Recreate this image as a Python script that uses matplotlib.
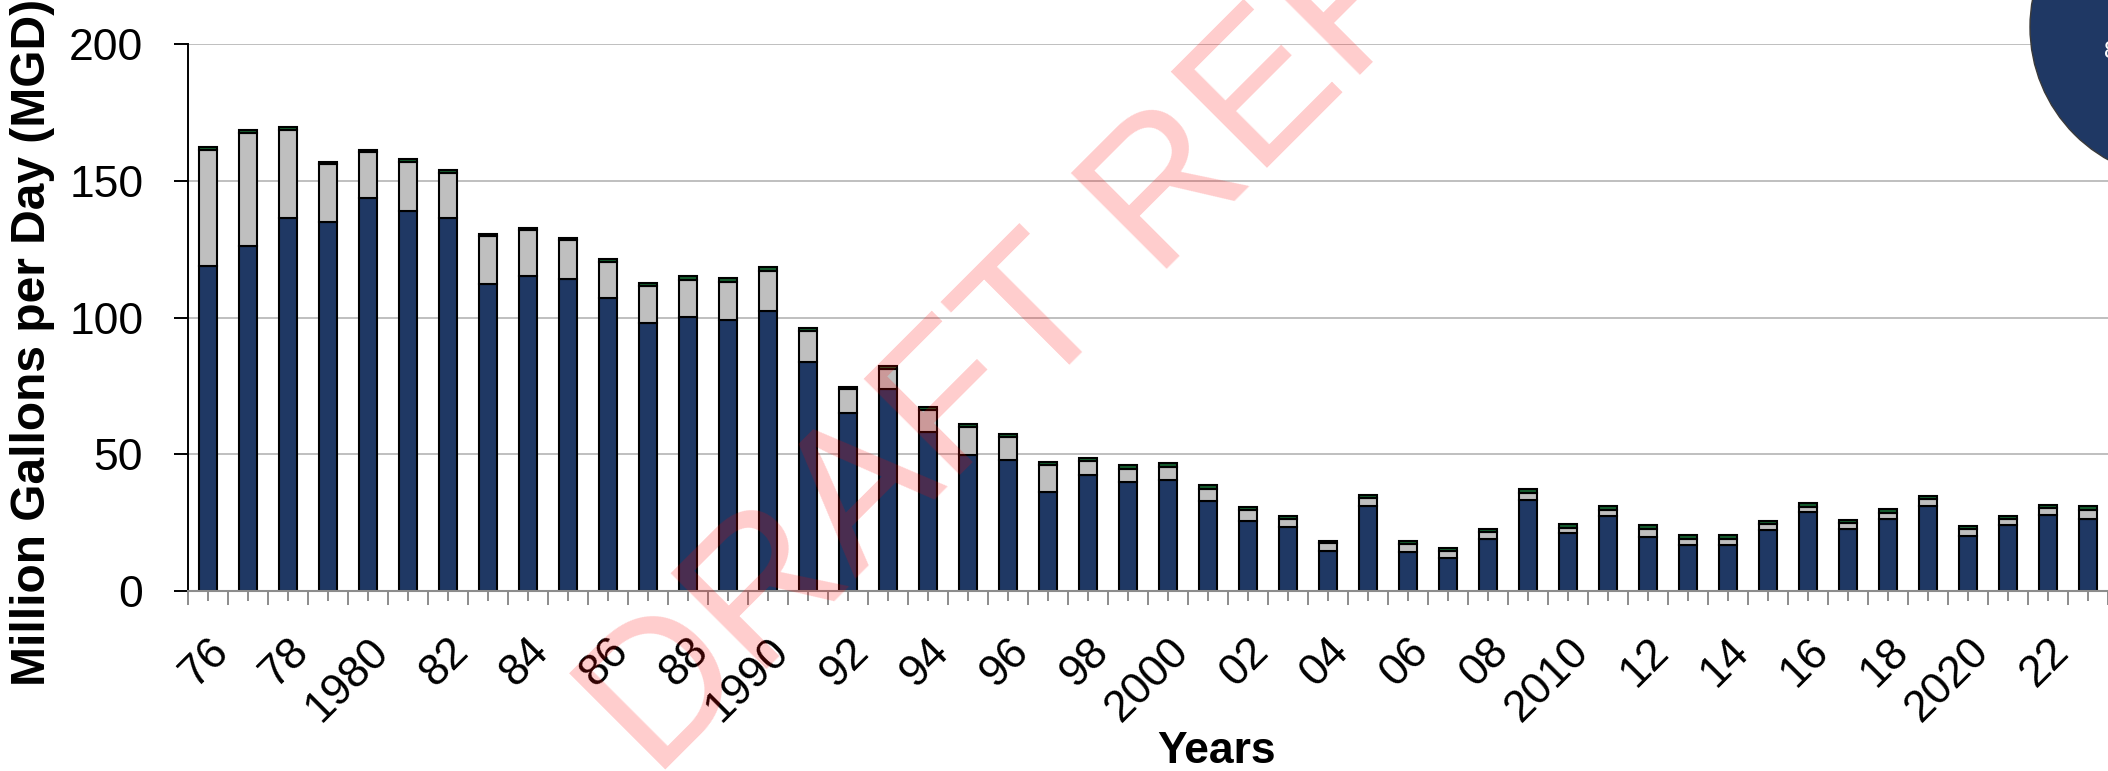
import matplotlib
matplotlib.use("Agg")
import matplotlib.pyplot as plt
from matplotlib.patches import Ellipse
import numpy as np

plt.rcParams["font.family"] = ["Liberation Sans", "DejaVu Sans"]

# annual production, million gallons per day
years = list(range(1976, 2024))
navy_part = [119.0, 126.3, 136.3, 134.9, 143.8, 139.1, 136.6, 112.4, 115.2, 114.0,
             107.1, 97.9, 100.3, 99.1, 102.5, 83.9, 65.0, 73.8, 58.3, 49.8,
             47.8, 36.3, 42.4, 39.8, 40.7, 33.0, 25.6, 23.5, 14.7, 31.2,
             14.4, 12.2, 19.0, 33.2, 21.1, 27.4, 19.9, 16.9, 17.0, 22.2,
             28.8, 22.8, 26.2, 31.1, 20.2, 24.0, 27.8, 26.4]
gray_part = [42.3, 41.4, 32.5, 21.3, 16.7, 18.0, 16.2, 17.3, 16.7, 14.3,
             13.1, 13.6, 13.5, 14.1, 14.7, 11.3, 8.8, 7.5, 7.9, 10.1,
             8.4, 9.7, 5.2, 4.9, 4.8, 4.4, 3.9, 3.0, 2.7, 2.8,
             2.8, 2.3, 2.6, 2.5, 2.1, 2.3, 2.8, 2.2, 2.1, 2.2,
             2.0, 2.0, 2.5, 2.6, 2.6, 2.3, 2.4, 3.3]
green_part = [1.2, 0.9, 0.9, 0.8, 0.9, 1.1, 1.1, 0.9, 0.9, 0.9,
              1.1, 1.1, 1.4, 1.4, 1.4, 1.1, 0.9, 1.0, 1.2, 1.1,
              1.2, 1.1, 1.2, 1.4, 1.4, 1.4, 1.2, 1.0, 1.0, 1.1,
              1.1, 1.1, 1.0, 1.5, 1.3, 1.5, 1.3, 1.3, 1.3, 1.1,
              1.3, 1.1, 1.2, 1.1, 1.1, 1.1, 1.2, 1.4]
year_labels = [("" if y % 2 else (str(y) if y % 10 == 0 else f"{y % 100:02d}")) for y in years]

W, H = 2108, 771
fig = plt.figure(figsize=(W / 100, H / 100), dpi=100)
ax = fig.add_axes([187.7 / W, 1 - 591 / H, (W - 187.7) / W, (591 - 44.3) / H])

x = np.arange(len(years))
navy = np.array(navy_part)
gray = np.array(gray_part)
green = np.array(green_part)
bar_kw = dict(width=0.44, edgecolor="black", linewidth=1.5)
ax.bar(x, navy, color="#1F3864", **bar_kw)
ax.bar(x, gray, bottom=navy, color="#BFBFBF", **bar_kw)
ax.bar(x, green, bottom=navy + gray, color="#155E2E", **bar_kw)

ax.set_xlim(-0.5, len(years) - 0.5)
ax.set_ylim(0, 200)
ax.set_axisbelow(True)
ax.yaxis.grid(True, color="#BFBFBF", linewidth=1.4)

for side in ("top", "right"):
    ax.spines[side].set_visible(False)
ax.spines["left"].set_color("black")
ax.spines["left"].set_linewidth(1.4)
ax.spines["bottom"].set_color("#8C8C8C")
ax.spines["bottom"].set_linewidth(1.5)

ax.set_yticks([0, 50, 100, 150, 200])
ax.tick_params(axis="y", length=10, width=1.4, color="black", labelsize=32, pad=22)

ax.set_xticks(x)
ax.set_xticklabels(year_labels, rotation=45, ha="right", va="top", rotation_mode="anchor")
ax.set_xticks(np.arange(-0.5, len(years), 1), minor=True)
ax.tick_params(axis="x", which="major", length=7.2, width=1.4, color="#8C8C8C", labelsize=32, pad=21)
ax.tick_params(axis="x", which="minor", length=10, width=1.4, color="#8C8C8C")

fig.text(45 / W, 1 - 686 / H, "Million Gallons per Day (MGD)", rotation=90,
         rotation_mode="anchor", ha="left", va="baseline", fontsize=34.5, fontweight="bold")
fig.text(1217 / W, 1 - 763 / H, "Years", ha="center", va="baseline", fontsize=32, fontweight="bold")

# badge in the corner
badge = Ellipse((2182 / W, 1 - 27 / H), 2 * 152 / W, 2 * 152 / H, transform=fig.transFigure,
                facecolor="#1F3864", edgecolor="#3A3A3A", linewidth=1, zorder=5)
fig.add_artist(badge)
fig.text(2104 / W, 1 - 52 / H, "8", color="white", fontsize=17, ha="left", va="center", zorder=6)

# watermark
fig.text(655 / W, 1 - 781 / H, "DRAFT REFERENCE", rotation=45, rotation_mode="anchor",
         ha="left", va="baseline", fontsize=142, color=(1, 0, 0, 0.2), zorder=10)

fig.savefig("out.png", dpi=100)
